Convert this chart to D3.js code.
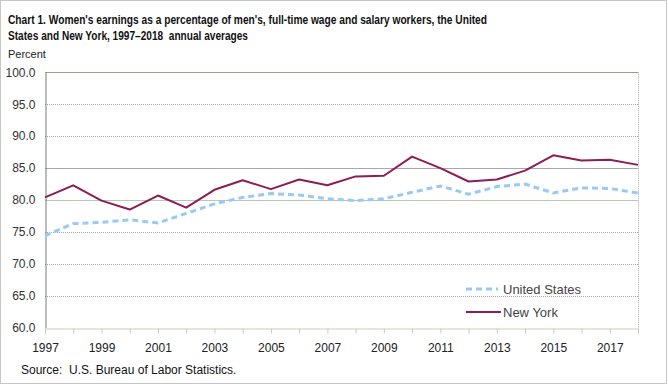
<!DOCTYPE html>
<html>
<head>
<meta charset="utf-8">
<script src="https://cdn.jsdelivr.net/npm/d3@7"></script>
<style>
  html, body { margin: 0; padding: 0; background: #fff; }
  svg { display: block; font-family: Arial, "Liberation Sans", sans-serif; }
  text { white-space: pre; }
</style>
</head>
<body>
<svg id="chart" width="669" height="386"></svg>
<script>
const years = d3.range(1997, 2019);
const usValues = [74.4, 76.3, 76.5, 76.9, 76.4, 77.9, 79.4, 80.4, 81.0, 80.8, 80.2, 79.9, 80.2, 81.2, 82.2, 80.9, 82.1, 82.5, 81.1, 81.9, 81.8, 81.1];
const nyValues = [80.4, 82.3, 79.9, 78.5, 80.7, 78.8, 81.6, 83.1, 81.7, 83.2, 82.3, 83.7, 83.8, 86.8, 85.0, 82.9, 83.2, 84.6, 87.0, 86.2, 86.3, 85.5];
const yTicks = [60, 65, 70, 75, 80, 85, 90, 95, 100];
const xLabelYears = [1997, 1999, 2001, 2003, 2005, 2007, 2009, 2011, 2013, 2015, 2017];
const seriesNames = ["United States", "New York"];
const titleLines = ["Chart 1. Women's earnings as a percentage of men's, full-time wage and salary workers, the United", "States and New York, 1997\u20132018  annual averages"];

const svg = d3.select("#chart");
const pLeft = 45, pRight = 638, pTop = 72.3, pBottom = 327.7;

// outer frame
svg.append("rect").attr("x", 0.5).attr("y", 0.5).attr("width", 666).attr("height", 383)
  .attr("fill", "#fff").attr("stroke", "#c4c8c4").attr("stroke-width", 1);

const x = d3.scaleLinear().domain([1997, 2018]).range([pLeft, pRight]);
const y = d3.scaleLinear().domain([60, 100]).range([pBottom, pTop]);

// gridlines
const grid = svg.append("g");
yTicks.filter(t => t > 60).forEach(t => {
  const solid = (t === 100 || t === 80 || t === 85);
  grid.append("line")
    .attr("x1", pLeft).attr("x2", pRight)
    .attr("y1", Math.round(y(t)) + 0.5).attr("y2", Math.round(y(t)) + 0.5)
    .attr("stroke", t === 100 ? "#8fa58f" : (t === 80 ? "#b7c9b0" : "#a8a8a8"))
    .attr("stroke-width", 1)
    .attr("stroke-dasharray", solid ? null : "1,1");
});
// right border dotted
svg.append("line").attr("x1", pRight + 0.5).attr("x2", pRight + 0.5)
  .attr("y1", pTop).attr("y2", pBottom).attr("stroke", "#a8a8a8").attr("stroke-dasharray", "1,1");

// y axis
const yAxis = d3.axisLeft(y).tickValues(yTicks).tickSize(0).tickPadding(10).tickFormat(d3.format(".1f"));
const gy = svg.append("g").attr("transform", `translate(${pLeft + 0.5},0)`).call(yAxis);
gy.select(".domain").attr("stroke", "#7a7a7a");
gy.selectAll("text").attr("font-size", 12).attr("fill", "#333");

// x axis
const xAxis = d3.axisBottom(x).tickValues(years).tickSize(5).tickPadding(10)
  .tickFormat(d => xLabelYears.includes(d) ? d : "");
const gx = svg.append("g").attr("transform", `translate(0,${Math.round(pBottom) + 0.5})`).call(xAxis);
gx.select(".domain").attr("stroke", "#c5cfc0");
gx.selectAll(".tick line").attr("stroke", "#c5cfc0").attr("y1", 0).attr("y2", 5);
gx.selectAll("text").attr("font-size", 12).attr("fill", "#222").attr("dy", "0.71em");

// lines
const line = d3.line().x((d, i) => x(years[i])).y(d => y(d));
svg.append("path").datum(nyValues).attr("d", line)
  .attr("fill", "none").attr("stroke", "#8c1d55").attr("stroke-width", 2).attr("stroke-linejoin", "round");
svg.append("path").datum(usValues).attr("d", line)
  .attr("fill", "none").attr("stroke", "#99c9f5").attr("stroke-width", 3).attr("stroke-dasharray", "6,4");

// legend
const lg = svg.append("g");
lg.append("line").attr("x1", 466).attr("x2", 498).attr("y1", 289).attr("y2", 289)
  .attr("stroke", "#99c9f5").attr("stroke-width", 3).attr("stroke-dasharray", "6,4");
lg.append("text").attr("x", 503).attr("y", 294).attr("font-size", 13).attr("fill", "#444").text(seriesNames[0]);
lg.append("line").attr("x1", 466).attr("x2", 501).attr("y1", 312).attr("y2", 312)
  .attr("stroke", "#8c1d55").attr("stroke-width", 2);
lg.append("text").attr("x", 503).attr("y", 317).attr("font-size", 13).attr("fill", "#444").text(seriesNames[1]);

// title
svg.append("text").attr("x", 8).attr("y", 24).attr("font-size", 13.5).attr("font-weight", "bold")
  .attr("fill", "#111").attr("textLength", 479).attr("lengthAdjust", "spacingAndGlyphs").text(titleLines[0]);
svg.append("text").attr("x", 8).attr("y", 40).attr("font-size", 13.5).attr("font-weight", "bold")
  .attr("fill", "#111").attr("textLength", 240).attr("lengthAdjust", "spacingAndGlyphs").text(titleLines[1]);
svg.append("text").attr("x", 8).attr("y", 58).attr("font-size", 11).attr("fill", "#222").text("Percent");

// source
svg.append("text").attr("x", 21).attr("y", 374).attr("font-size", 12).attr("fill", "#111")
  .text("Source:  U.S. Bureau of Labor Statistics.");
</script>
</body>
</html>
